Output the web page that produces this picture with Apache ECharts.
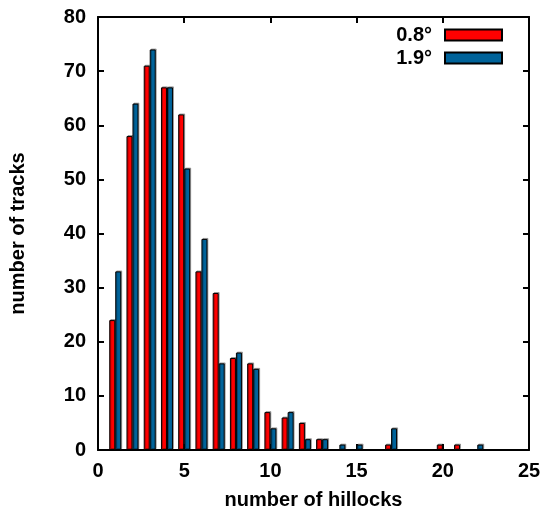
<!DOCTYPE html>
<html><head><meta charset="utf-8">
<script src="https://cdn.jsdelivr.net/npm/echarts@6/dist/echarts.min.js"></script>
<style>html,body{margin:0;padding:0;background:#fff}#c{width:544px;height:516px}</style>
</head><body><div id="c"></div>
<script>
const hillocks08 = [1,2,3,4,5,6,7,8,9,10,11,12,13,17,20,21];
const tracks08   = [24,58,71,67,62,33,29,17,16,7,6,5,2,1,1,1];
const hillocks19 = [1,2,3,4,5,6,7,8,9,10,11,12,13,14,15,17,22];
const tracks19   = [33,64,74,67,52,39,16,18,15,4,7,2,2,1,1,4,1];
const seriesNames = ['0.8°','1.9°'];
const xTicks = [0,5,10,15,20,25];
const yTicks = [0,10,20,30,40,50,60,70,80];

const font = 'Liberation Sans, Arial, Helvetica, sans-serif';
const chart = echarts.init(document.getElementById('c'), null, {renderer:'canvas'});
const pairs = (xs, ys) => xs.map((x,i)=>[x, ys[i]]);
const axisCommon = {
  axisLine:{show:true, onZero:false, lineStyle:{color:'#000', width:2}},
  axisTick:{show:true, inside:true, length:6, lineStyle:{color:'#000', width:2}},
  splitLine:{show:false}
};
chart.setOption({
  animation:false,
  grid:{left:97, right:15, top:17, bottom:66},
  legend:{
    orient:'vertical', right:36, top:20, itemGap:3, itemWidth:57, itemHeight:11,
    align:'right', icon:'rect',
    textStyle:{fontFamily:font, fontWeight:'bold', fontSize:20, color:'#000', padding:[0,8,0,0]},
    data:seriesNames
  },
  xAxis:[
    Object.assign({type:'value', min:xTicks[0], max:xTicks[xTicks.length-1], interval:5,
      name:'number of hillocks', nameLocation:'middle', nameGap:40,
      nameTextStyle:{fontFamily:font, fontWeight:'bold', fontSize:20, color:'#000'},
      axisLabel:{fontFamily:font, fontWeight:'bold', fontSize:20, color:'#000', margin:11}}, axisCommon),
    Object.assign({type:'value', position:'top', min:0, max:25, interval:5, axisLabel:{show:false}}, axisCommon)
  ],
  yAxis:[
    Object.assign({type:'value', min:yTicks[0], max:yTicks[yTicks.length-1], interval:10,
      name:'number of tracks', nameLocation:'middle', nameGap:70,
      nameTextStyle:{fontFamily:font, fontWeight:'bold', fontSize:20, color:'#000'},
      axisLabel:{fontFamily:font, fontWeight:'bold', fontSize:20, color:'#000', margin:12}}, axisCommon),
    Object.assign({type:'value', position:'right', min:0, max:80, interval:10, axisLabel:{show:false}}, axisCommon)
  ],
  series:[
    {name:seriesNames[0], type:'bar', data:pairs(hillocks08, tracks08), barWidth:6, barGap:'0%',
      itemStyle:{color:'#ff0000', borderColor:'#000', borderWidth:1,
        shadowColor:'rgba(0,0,0,0.3)', shadowOffsetX:1, shadowOffsetY:-1}},
    {name:seriesNames[1], type:'bar', data:pairs(hillocks19, tracks19), barWidth:6, barGap:'0%',
      itemStyle:{color:'#00639a', borderColor:'#000', borderWidth:1,
        shadowColor:'rgba(0,0,0,0.3)', shadowOffsetX:1, shadowOffsetY:-1}}
  ]
});
</script></body></html>
